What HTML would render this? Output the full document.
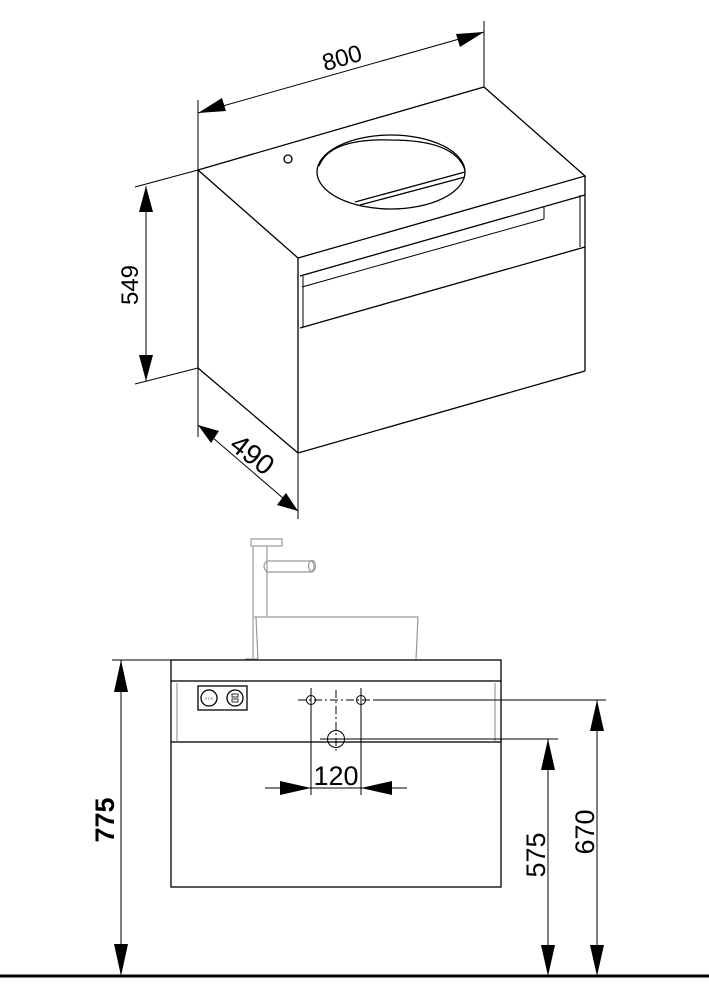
<!DOCTYPE html>
<html><head><meta charset="utf-8"><style>html,body{margin:0;padding:0;background:#fff}svg{display:block}</style></head><body>
<svg width="709" height="1004" viewBox="0 0 709 1004" xmlns="http://www.w3.org/2000/svg" font-family="Liberation Sans, sans-serif">
<g fill="none" stroke="#000" stroke-width="1.3">
<polygon points="198,170 484,87 585,176 298,258" />
<line x1="198" y1="170" x2="198" y2="368"/>
<line x1="198" y1="368" x2="298" y2="453"/>
<line x1="298" y1="258" x2="298" y2="453"/>
<line x1="298" y1="453" x2="585" y2="371"/>
<line x1="585" y1="176" x2="585" y2="371"/>
<line x1="300" y1="276" x2="585" y2="195"/>
<line x1="300" y1="328" x2="585" y2="247"/>
<line x1="302" y1="287" x2="544" y2="219" stroke-width="1"/>
<line x1="544" y1="206" x2="544" y2="219" stroke-width="1"/>
<line x1="303" y1="276" x2="303" y2="327" stroke-width="1"/>
<line x1="580" y1="195" x2="580" y2="247" stroke-width="1"/>
<ellipse cx="391" cy="172" rx="74" ry="37"/>
<path d="M319,166 Q330,138 391,140 Q455,140 465,170" />
<line x1="355" y1="202" x2="465" y2="172"/>
<line x1="360" y1="205" x2="465" y2="177"/>
<circle cx="288" cy="159" r="4"/>
<line x1="198" y1="170" x2="198" y2="100" stroke-width="1"/>
<line x1="484" y1="87" x2="484" y2="21" stroke-width="1"/>
<line x1="198" y1="113" x2="484" y2="32" stroke-width="1"/>
<line x1="198" y1="170" x2="135" y2="187" stroke-width="1"/>
<line x1="198" y1="368" x2="135" y2="384" stroke-width="1"/>
<line x1="146" y1="186" x2="146" y2="381" stroke-width="1"/>
<line x1="198" y1="368" x2="198" y2="437" stroke-width="1"/>
<line x1="298" y1="453" x2="298" y2="519" stroke-width="1"/>
<line x1="198" y1="425" x2="298" y2="511" stroke-width="1"/>
</g>
<g fill="#000">
<polygon points="198,113 222,98 226,111"/>
<polygon points="484,32 456,34 460,47"/>
<polygon points="146,186 139,212 153,212"/>
<polygon points="146,381 139,355 153,355"/>
<polygon points="198,425 219,431 211,443"/>
<polygon points="298,511 277,505 286,493"/>
</g>
<g font-size="24" fill="#000">
<text x="342" y="66" text-anchor="middle" transform="rotate(-16 342 58)">800</text>
<text x="138" y="285" text-anchor="middle" transform="rotate(-90 138 285)">549</text>
<text x="252" y="464" font-size="28" text-anchor="middle" transform="rotate(38 252 455)">490</text>
</g>

<g fill="none" stroke="#999" stroke-width="1.2">
<rect x="251" y="539" width="31" height="7"/>
<line x1="253" y1="546" x2="253" y2="658"/>
<line x1="267" y1="546" x2="267" y2="616"/>
<path d="M267,561 L312,561 Q316,566 312,572 L267,572 Q261,566 267,561 Z"/>
<ellipse cx="312" cy="566" rx="3.5" ry="5.5"/>
<path d="M254,617 L418,617 L416,660 M256,617 L258,660"/>
<line x1="245" y1="659" x2="258" y2="659"/>
</g>
<g fill="none" stroke="#000" stroke-width="1.3">
<rect x="171" y="660" width="330" height="21"/>
<line x1="171" y1="681" x2="171" y2="742"/>
<line x1="501" y1="681" x2="501" y2="742"/>
<line x1="177" y1="683" x2="177" y2="741" stroke="#888" stroke-width="1"/>
<line x1="495" y1="683" x2="495" y2="741" stroke="#888" stroke-width="1"/>
<rect x="171" y="742" width="330" height="145"/>
<rect x="198" y="686" width="49" height="24"/>
<circle cx="209" cy="698" r="8"/>
<circle cx="235" cy="698" r="8"/>
<circle cx="311" cy="700" r="4.5" stroke-width="1"/>
<circle cx="361" cy="700" r="4.5" stroke-width="1"/>
<circle cx="336" cy="739" r="8.5" stroke-width="1"/>
<line x1="298" y1="700" x2="375" y2="700" stroke-width="1" stroke-dasharray="8,3,2,3"/>
<line x1="336" y1="690" x2="336" y2="752" stroke-width="1" stroke-dasharray="8,3,2,3"/>
<line x1="375" y1="700" x2="606" y2="700" stroke-width="1"/>
<line x1="320" y1="739" x2="558" y2="739" stroke-width="1"/>
<line x1="311" y1="688" x2="311" y2="795" stroke-width="1"/>
<line x1="361" y1="688" x2="361" y2="795" stroke-width="1"/>
<line x1="265" y1="788" x2="407" y2="788" stroke-width="1"/>
<line x1="112" y1="660" x2="172" y2="660" stroke-width="1"/>
<line x1="121" y1="660" x2="121" y2="976" stroke-width="1"/>
<line x1="548" y1="739" x2="548" y2="976" stroke-width="1"/>
<line x1="597" y1="700" x2="597" y2="976" stroke-width="1"/>
</g>
<line x1="0" y1="976" x2="709" y2="976" stroke="#000" stroke-width="3"/>
<g fill="#000">
<polygon points="311,788 280,781 280,795"/>
<polygon points="361,788 392,781 392,795"/>
<polygon points="121,660 114,692 128,692"/>
<polygon points="121,976 114,944 128,944"/>
<polygon points="548,739 541,770 555,770"/>
<polygon points="548,976 541,945 555,945"/>
<polygon points="597,700 590,731 604,731"/>
<polygon points="597,976 590,945 604,945"/>
</g>
<g font-size="27" fill="#000">
<text x="336" y="785" text-anchor="middle">120</text>
<text x="545" y="855" text-anchor="middle" transform="rotate(-90 545 855)">575</text>
<text x="594" y="832" text-anchor="middle" transform="rotate(-90 594 832)">670</text>
<text x="114" y="820" text-anchor="middle" font-weight="bold" transform="rotate(-90 114 820)">775</text>
</g>
<g font-size="5" fill="#000" text-anchor="middle"><text x="209" y="700">○○○</text></g>
<rect x="232" y="694" width="6" height="3" fill="none" stroke="#000" stroke-width="0.8"/>
<rect x="232" y="699" width="6" height="3" fill="none" stroke="#000" stroke-width="0.8"/>
</svg>
</body></html>
